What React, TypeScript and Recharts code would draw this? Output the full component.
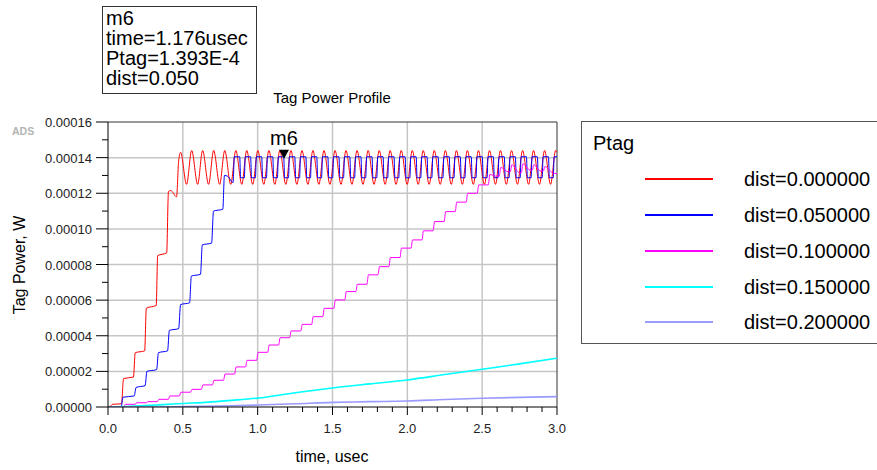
import { CartesianGrid, Line, LineChart, ReferenceDot, ReferenceLine, XAxis, YAxis } from 'recharts';

// time in usec, power in units of 1e-5 W
const timeTicks = [0, 0.1, 0.2, 0.3, 0.4, 0.5, 0.6, 0.7, 0.8, 0.9, 1.0, 1.1, 1.2, 1.3, 1.4, 1.5, 1.6, 1.7, 1.8, 1.9, 2.0, 2.1, 2.2, 2.3, 2.4, 2.5, 2.6, 2.7, 2.8, 2.9, 3.0];
const powerTicks = [0, 0.00001, 0.00002, 0.00003, 0.00004, 0.00005, 0.00006, 0.00007, 0.00008, 0.00009, 0.0001, 0.00011, 0.00012, 0.00013, 0.00014, 0.00015, 0.00016];
const gridTimes = [0.5, 1.0, 1.5, 2.0, 2.5];
const gridPowers = [0.00002, 0.00004, 0.00006, 0.00008, 0.0001, 0.00012, 0.00014];

const dist000: [number, number][] = [
  [0, 0], [0.012, 0.02], [0.03, 0.15], [0.09, 0.18], [0.104, 1.6], [0.17, 1.68], [0.182, 3.05], [0.245, 3.15],
  [0.256, 5.55], [0.322, 5.7], [0.332, 8.5], [0.392, 8.65], [0.404, 12.1], [0.42, 12.15], [0.458, 11.8], [0.472, 13.8],
  [0.485, 14.3], [0.525, 12.5], [0.559, 14.4], [0.599, 12.5], [0.632, 14.4], [0.672, 12.5], [0.706, 14.4], [0.746, 12.5],
  [0.78, 14.4], [0.82, 12.5], [0.854, 14.4], [0.894, 12.5], [0.927, 14.4], [0.967, 12.5], [1.001, 14.4], [1.041, 12.5],
  [1.075, 14.4], [1.115, 12.5], [1.148, 14.4], [1.188, 12.5], [1.222, 14.4], [1.262, 12.5], [1.296, 14.4], [1.336, 12.5],
  [1.369, 14.4], [1.409, 12.5], [1.443, 14.4], [1.483, 12.5], [1.517, 14.4], [1.557, 12.5], [1.59, 14.4], [1.63, 12.5],
  [1.664, 14.4], [1.704, 12.5], [1.738, 14.4], [1.778, 12.5], [1.812, 14.4], [1.852, 12.5], [1.885, 14.4], [1.925, 12.5],
  [1.959, 14.4], [1.999, 12.5], [2.033, 14.4], [2.073, 12.5], [2.106, 14.4], [2.146, 12.5], [2.18, 14.4], [2.22, 12.5],
  [2.254, 14.4], [2.294, 12.5], [2.328, 14.4], [2.368, 12.5], [2.401, 14.4], [2.441, 12.5], [2.475, 14.4], [2.515, 12.5],
  [2.549, 14.4], [2.589, 12.5], [2.622, 14.4], [2.662, 12.5], [2.696, 14.4], [2.736, 12.5], [2.77, 14.4], [2.81, 12.5],
  [2.843, 14.4], [2.883, 12.5], [2.917, 14.4], [2.957, 12.5], [2.991, 14.4], [3.0, 14.3],
];

const dist050: [number, number][] = [
  [0, 0], [0.088, 0], [0.1, 0.55], [0.175, 0.62], [0.188, 1.1], [0.248, 1.2], [0.26, 2.0], [0.325, 2.1],
  [0.337, 3.05], [0.398, 3.15], [0.41, 4.3], [0.472, 4.4], [0.485, 5.75], [0.545, 5.85], [0.557, 7.35], [0.618, 7.45],
  [0.63, 9.1], [0.692, 9.2], [0.705, 11.0], [0.767, 11.1], [0.778, 13.0], [0.8, 12.95], [0.836, 12.6],
  [0.844, 14.05], [0.88, 14.05], [0.886, 12.87], [0.911, 12.87], [0.917, 14.05], [0.953, 14.05], [0.959, 12.87],
  [0.985, 12.87], [0.991, 14.05], [1.027, 14.05], [1.033, 12.87], [1.059, 12.87], [1.065, 14.05], [1.101, 14.05], [1.107, 12.87],
  [1.132, 12.87], [1.138, 14.05], [1.174, 14.05], [1.18, 12.87], [1.206, 12.87], [1.212, 14.05], [1.248, 14.05], [1.254, 12.87],
  [1.28, 12.87], [1.286, 14.05], [1.322, 14.05], [1.328, 12.87], [1.353, 12.87], [1.359, 14.05], [1.395, 14.05], [1.401, 12.87],
  [1.427, 12.87], [1.433, 14.05], [1.469, 14.05], [1.475, 12.87], [1.501, 12.87], [1.507, 14.05], [1.543, 14.05], [1.549, 12.87],
  [1.574, 12.87], [1.58, 14.05], [1.616, 14.05], [1.622, 12.87], [1.648, 12.87], [1.654, 14.05], [1.69, 14.05], [1.696, 12.87],
  [1.722, 12.87], [1.728, 14.05], [1.764, 14.05], [1.77, 12.87], [1.796, 12.87], [1.802, 14.05], [1.838, 14.05], [1.844, 12.87],
  [1.869, 12.87], [1.875, 14.05], [1.911, 14.05], [1.917, 12.87], [1.943, 12.87], [1.949, 14.05], [1.985, 14.05], [1.991, 12.87],
  [2.017, 12.87], [2.023, 14.05], [2.059, 14.05], [2.065, 12.87], [2.09, 12.87], [2.096, 14.05], [2.132, 14.05], [2.138, 12.87],
  [2.164, 12.87], [2.17, 14.05], [2.206, 14.05], [2.212, 12.87], [2.238, 12.87], [2.244, 14.05], [2.28, 14.05], [2.286, 12.87],
  [2.312, 12.87], [2.318, 14.05], [2.354, 14.05], [2.36, 12.87], [2.385, 12.87], [2.391, 14.05], [2.427, 14.05], [2.433, 12.87],
  [2.459, 12.87], [2.465, 14.05], [2.501, 14.05], [2.507, 12.87], [2.533, 12.87], [2.539, 14.05], [2.575, 14.05], [2.581, 12.87],
  [2.606, 12.87], [2.612, 14.05], [2.648, 14.05], [2.654, 12.87], [2.68, 12.87], [2.686, 14.05], [2.722, 14.05], [2.728, 12.87],
  [2.754, 12.87], [2.76, 14.05], [2.796, 14.05], [2.802, 12.87], [2.827, 12.87], [2.833, 14.05], [2.869, 14.05], [2.875, 12.87],
  [2.901, 12.87], [2.907, 14.05], [2.943, 14.05], [2.949, 12.87], [2.975, 12.87], [2.981, 14.05], [3.0, 14.05],
];

const dist100: [number, number][] = [
  [0, 0], [0.105, 0], [0.115, 0.15], [0.182, 0.15], [0.192, 0.24], [0.256, 0.24], [0.266, 0.3], [0.33, 0.3],
  [0.34, 0.43], [0.403, 0.43], [0.413, 0.62], [0.477, 0.62], [0.487, 0.83], [0.551, 0.83], [0.561, 0.99], [0.624, 0.99],
  [0.634, 1.24], [0.698, 1.24], [0.708, 1.5], [0.772, 1.5], [0.782, 1.85], [0.846, 1.85], [0.856, 2.25], [0.919, 2.25],
  [0.929, 2.62], [0.993, 2.62], [1.003, 3.07], [1.067, 3.07], [1.077, 3.48], [1.14, 3.48], [1.15, 3.89], [1.214, 3.89],
  [1.224, 4.27], [1.288, 4.27], [1.298, 4.64], [1.361, 4.64], [1.371, 5.07], [1.435, 5.07], [1.445, 5.54], [1.509, 5.54],
  [1.519, 6.01], [1.582, 6.01], [1.592, 6.48], [1.656, 6.48], [1.666, 6.89], [1.73, 6.89], [1.74, 7.42], [1.804, 7.42],
  [1.814, 7.88], [1.877, 7.88], [1.887, 8.39], [1.951, 8.39], [1.961, 8.92], [2.025, 8.92], [2.035, 9.38], [2.098, 9.38],
  [2.108, 9.89], [2.172, 9.89], [2.182, 10.41], [2.246, 10.41], [2.256, 10.97], [2.32, 10.97], [2.33, 11.5], [2.393, 11.5],
  [2.403, 12.0], [2.467, 12.0], [2.477, 12.47], [2.541, 12.47], [2.551, 13.05], [2.6, 12.95], [2.614, 12.95], [2.624, 13.45],
  [2.675, 13.2], [2.688, 13.2], [2.698, 13.6], [2.75, 13.15], [2.762, 13.15], [2.772, 13.65], [2.82, 13.3], [2.835, 13.3],
  [2.845, 13.6], [2.89, 13.25], [2.909, 13.25], [2.919, 13.5], [2.97, 13.15], [3.0, 13.1],
];

const dist150: [number, number][] = [
  [0, 0], [0.1, 0.02], [0.25, 0.08], [0.4, 0.15], [0.5, 0.2], [0.65, 0.26], [0.8, 0.36], [1.0, 0.5],
  [1.25, 0.8], [1.5, 1.07], [1.75, 1.3], [2.0, 1.52], [2.25, 1.82], [2.5, 2.12], [2.75, 2.42], [3.0, 2.74],
];

const dist200: [number, number][] = [
  [0, 0], [0.3, 0], [0.5, 0.02], [0.75, 0.06], [1.0, 0.11], [1.25, 0.18], [1.5, 0.26], [1.75, 0.3],
  [2.0, 0.34], [2.25, 0.42], [2.5, 0.49], [2.75, 0.54], [3.0, 0.58],
];

const seriesNames = ['dist=0.000000', 'dist=0.050000', 'dist=0.100000', 'dist=0.150000', 'dist=0.200000'];
const seriesColors = ['#ff0000', '#0000ff', '#ff00ff', '#00ffff', '#9a9aff'];
const seriesWidths = [1, 1, 1, 1.6, 1.6];
const seriesData = [dist000, dist050, dist100, dist150, dist200];

const markerTime = 1.176;
const markerPower = 1.393e-4;

const toRows = (pts: [number, number][]) => pts.map(([t, p]) => ({ t, v: p * 1e-5 }));

const font = '"Liberation Sans", Arial, sans-serif';

function TimeTick({ x, y, payload }: any) {
  const v = payload.value as number;
  const major = Math.abs(v * 2 - Math.round(v * 2)) < 1e-6;
  return (
    <g>
      <line x1={x} x2={x} y1={y} y2={y + (major ? 8 : 5)} stroke="#000" />
      {major && (
        <text x={x} y={y + 26} textAnchor="middle" fontSize={13} fontFamily={font} fill="#222">
          {v.toFixed(1)}
        </text>
      )}
    </g>
  );
}

function PowerTick({ x, y, payload }: any) {
  const v = payload.value as number;
  const major = Math.round(v * 1e5) % 2 === 0;
  return (
    <g>
      <line x1={x - (major ? 12 : 6)} x2={x} y1={y} y2={y} stroke="#000" />
      {major && (
        <text x={x - 16} y={y + 5} textAnchor="end" fontSize={13} fontFamily={font} fill="#222">
          {v.toFixed(5)}
        </text>
      )}
    </g>
  );
}

function MarkerShape({ cx, cy }: any) {
  return (
    <g>
      <path d={`M${cx - 5},${cy - 9} L${cx + 5},${cy - 9} L${cx},${cy} Z`} fill="#000" />
      <text x={cx} y={cy - 14} textAnchor="middle" fontSize={20} fontFamily={font} fill="#000">
        m6
      </text>
    </g>
  );
}

const legendRows = [179, 215, 251, 287, 322];

export default function App() {
  return (
    <div style={{ position: 'absolute', left: 0, top: 0, width: 877, height: 470, fontFamily: font, background: '#fff', overflow: 'hidden' }}>
      <LineChart width={877} height={470} margin={{ top: 122, right: 320, bottom: 33, left: 48 }}>
        <CartesianGrid horizontalValues={gridPowers} verticalValues={gridTimes} stroke="#c6c6c6" strokeWidth={1.5} />
        <XAxis
          dataKey="t"
          type="number"
          domain={[0, 3]}
          ticks={timeTicks}
          interval={0}
          tickSize={0}
          tickMargin={0}
          tickLine={false}
          tick={<TimeTick />}
          axisLine={{ stroke: '#000' }}
          allowDataOverflow
        />
        <YAxis
          type="number"
          width={60}
          domain={[0, 0.00016]}
          ticks={powerTicks}
          interval={0}
          tickSize={0}
          tickMargin={0}
          tickLine={false}
          tick={<PowerTick />}
          axisLine={{ stroke: '#000' }}
          allowDataOverflow
        />
        <ReferenceLine y={0.00016} stroke="#333" />
        <ReferenceLine x={3} stroke="#333" />
        {seriesData.map((pts, i) => (
          <Line
            key={seriesNames[i]}
            data={toRows(pts)}
            dataKey="v"
            name={seriesNames[i]}
            type="monotone"
            stroke={seriesColors[i]}
            strokeWidth={seriesWidths[i]}
            dot={false}
            activeDot={false}
            isAnimationActive={false}
          />
        ))}
        <ReferenceDot x={markerTime} y={markerPower} shape={<MarkerShape />} />
      </LineChart>

      <div style={{ position: 'absolute', left: 102, top: 6, width: 150, height: 85, border: '1px solid #333', padding: '1px 0 0 3px', fontSize: 20, lineHeight: '20px', color: '#000', boxSizing: 'content-box' }}>
        <div>m6</div>
        <div>time=1.176usec</div>
        <div>Ptag=1.393E-4</div>
        <div>dist=0.050</div>
      </div>

      <div style={{ position: 'absolute', left: 0, width: 664, top: 89, textAlign: 'center', fontSize: 15, lineHeight: '18px', color: '#000' }}>
        Tag Power Profile
      </div>

      <div style={{ position: 'absolute', left: 12, top: 125, fontSize: 10.5, fontWeight: 'bold', color: '#b4b4b4' }}>ADS</div>

      <div style={{ position: 'absolute', left: 20, top: 265, transform: 'translate(-50%, -50%) rotate(-90deg)', whiteSpace: 'nowrap', fontSize: 16, color: '#000' }}>
        Tag Power, W
      </div>

      <div style={{ position: 'absolute', left: 0, width: 664, top: 448, textAlign: 'center', fontSize: 16, lineHeight: '18px', color: '#000' }}>
        time, usec
      </div>

      <div style={{ position: 'absolute', left: 581, top: 121, width: 300, height: 221, border: '1px solid #555' }} />
      <div style={{ position: 'absolute', left: 593, top: 133, fontSize: 20, lineHeight: '20px', color: '#000' }}>Ptag</div>
      <svg style={{ position: 'absolute', left: 0, top: 0 }} width={877} height={470}>
        {seriesNames.map((name, i) => (
          <line key={name} x1={645} x2={713} y1={legendRows[i]} y2={legendRows[i]} stroke={seriesColors[i]} strokeWidth={2} />
        ))}
      </svg>
      {seriesNames.map((name, i) => (
        <div key={name} style={{ position: 'absolute', left: 744, top: legendRows[i] - 10, fontSize: 20, lineHeight: '20px', color: '#000', whiteSpace: 'nowrap' }}>
          {name}
        </div>
      ))}
    </div>
  );
}
